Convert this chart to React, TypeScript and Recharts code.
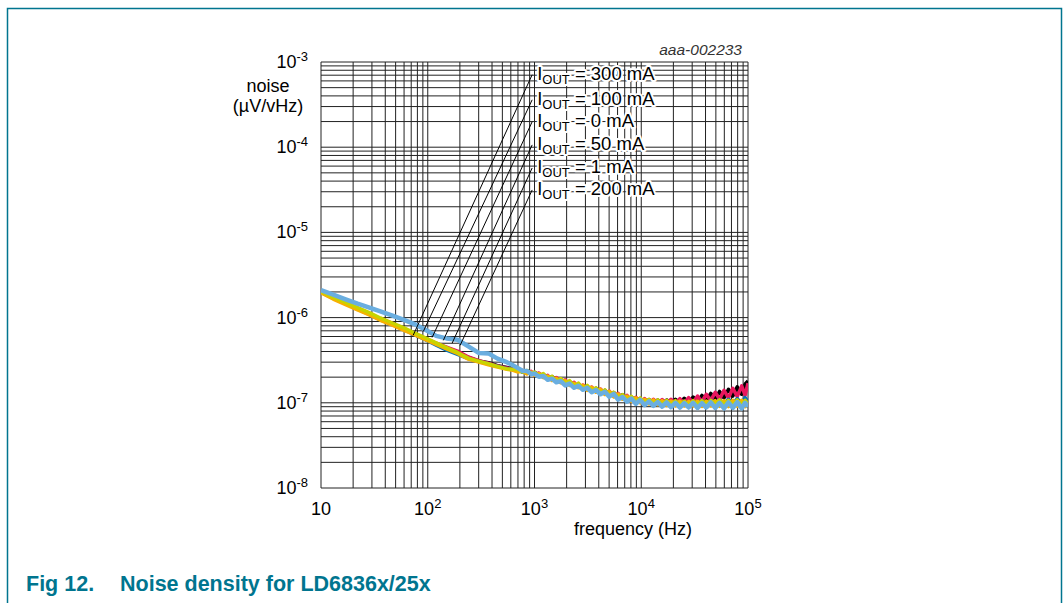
import React from "react";
import {
  LineChart,
  Line,
  XAxis,
  YAxis,
  CartesianGrid,
  ReferenceLine,
  ReferenceDot,
} from "recharts";

// frequency points (Hz)
const freq = [
  10, 13, 17, 22, 28, 36, 46, 60, 75, 95, 120, 150, 190, 240, 300, 370, 450, 550, 630,
  700, 770, 850, 930, 1000, 1100, 1210, 1330, 1460, 1600, 1760, 1940, 2130, 2350, 2580,
  2840, 3120, 3430, 3770, 4150, 4570, 5020, 5520, 6070, 6680, 7350, 8080, 8890, 9780,
  10760, 11830, 13000, 14300, 15700, 17300, 19000, 20900, 23000, 25300, 27800, 30600,
  33700, 37000, 40700, 44800, 49300, 54200, 59600, 65600, 72100, 79300, 87300, 94000,
  100000,
];

// noise density (uV/sqrt(Hz)) per load current
const iout300 = [
  20e-7, 17e-7, 14.7e-7, 12.7e-7, 11.2e-7, 9.6e-7, 8.5e-7, 7.3e-7, 6.4e-7, 5.6e-7, 4.9e-7,
  4.4e-7, 3.95e-7, 3.4e-7, 3.1e-7, 2.95e-7, 2.72e-7, 2.6e-7, 2.5e-7,
  2.45e-7, 2.32e-7, 2.38e-7, 2.2e-7, 2.28e-7, 2.1e-7, 2.16e-7, 1.96e-7, 2.03e-7, 1.83e-7,
  1.9e-7, 1.7e-7, 1.78e-7, 1.58e-7, 1.66e-7, 1.48e-7, 1.56e-7, 1.4e-7, 1.48e-7, 1.32e-7,
  1.4e-7, 1.24e-7, 1.32e-7, 1.16e-7, 1.24e-7, 1.09e-7, 1.17e-7, 1.04e-7, 1.12e-7, 1.0e-7,
  1.09e-7, 0.98e-7, 1.08e-7, 0.97e-7, 1.08e-7, 0.98e-7, 1.1e-7, 0.99e-7, 1.13e-7, 1.01e-7,
  1.17e-7, 1.03e-7, 1.22e-7, 1.06e-7, 1.29e-7, 1.1e-7, 1.36e-7, 1.14e-7, 1.44e-7, 1.2e-7,
  1.54e-7, 1.26e-7, 1.66e-7, 1.8e-7,
];
const iout100 = [
  20.2e-7, 17.1e-7, 14.9e-7, 12.9e-7, 11.3e-7, 9.7e-7, 8.6e-7, 7.4e-7, 6.5e-7, 5.7e-7, 5.0e-7,
  4.5e-7, 4.05e-7, 3.45e-7, 3.12e-7, 2.92e-7, 2.7e-7, 2.57e-7, 2.46e-7,
  2.38e-7, 2.4e-7, 2.22e-7, 2.34e-7, 2.12e-7, 2.24e-7, 2.0e-7, 2.1e-7, 1.86e-7, 1.98e-7,
  1.74e-7, 1.86e-7, 1.63e-7, 1.74e-7, 1.52e-7, 1.62e-7, 1.43e-7, 1.53e-7, 1.35e-7, 1.45e-7,
  1.27e-7, 1.37e-7, 1.19e-7, 1.29e-7, 1.12e-7, 1.22e-7, 1.06e-7, 1.16e-7, 1.02e-7, 1.12e-7,
  0.99e-7, 1.1e-7, 0.98e-7, 1.09e-7, 0.97e-7, 1.1e-7, 0.98e-7, 1.12e-7, 0.99e-7, 1.15e-7,
  1.0e-7, 1.2e-7, 1.03e-7, 1.26e-7, 1.06e-7, 1.33e-7, 1.1e-7, 1.4e-7, 1.14e-7, 1.48e-7,
  1.18e-7, 1.58e-7, 1.22e-7, 1.7e-7,
];
const iout0 = [
  19.8e-7, 16.8e-7, 14.6e-7, 12.6e-7, 11.0e-7, 9.4e-7, 8.3e-7, 7.2e-7, 6.3e-7, 5.5e-7, 4.75e-7,
  4.15e-7, 3.7e-7, 3.3e-7, 3.05e-7, 2.85e-7, 2.68e-7, 2.52e-7, 2.45e-7,
  2.42e-7, 2.28e-7, 2.36e-7, 2.17e-7, 2.27e-7, 2.06e-7, 2.14e-7, 1.92e-7, 2.0e-7, 1.8e-7,
  1.88e-7, 1.68e-7, 1.76e-7, 1.57e-7, 1.64e-7, 1.47e-7, 1.54e-7, 1.38e-7, 1.46e-7, 1.3e-7,
  1.38e-7, 1.22e-7, 1.3e-7, 1.14e-7, 1.22e-7, 1.08e-7, 1.16e-7, 1.03e-7, 1.11e-7, 0.99e-7,
  1.08e-7, 0.97e-7, 1.06e-7, 0.95e-7, 1.05e-7, 0.94e-7, 1.04e-7, 0.94e-7, 1.04e-7, 0.94e-7,
  1.05e-7, 0.95e-7, 1.06e-7, 0.95e-7, 1.07e-7, 0.96e-7, 1.08e-7, 0.97e-7, 1.1e-7, 0.98e-7,
  1.12e-7, 0.99e-7, 1.15e-7, 1.02e-7,
];
const iout50 = [
  19.6e-7, 16.5e-7, 14.2e-7, 12.3e-7, 10.8e-7, 9.3e-7, 8.2e-7, 7.1e-7, 6.3e-7, 5.5e-7, 4.85e-7,
  4.3e-7, 3.8e-7, 3.25e-7, 3.0e-7, 2.8e-7, 2.62e-7, 2.48e-7, 2.4e-7,
  2.3e-7, 2.36e-7, 2.18e-7, 2.3e-7, 2.1e-7, 2.2e-7, 1.97e-7, 2.06e-7, 1.83e-7, 1.94e-7,
  1.72e-7, 1.82e-7, 1.6e-7, 1.7e-7, 1.5e-7, 1.6e-7, 1.4e-7, 1.52e-7, 1.33e-7, 1.44e-7,
  1.25e-7, 1.36e-7, 1.17e-7, 1.27e-7, 1.1e-7, 1.2e-7, 1.04e-7, 1.14e-7, 1.0e-7, 1.1e-7,
  0.97e-7, 1.08e-7, 0.95e-7, 1.06e-7, 0.93e-7, 1.05e-7, 0.92e-7, 1.05e-7, 0.92e-7, 1.04e-7,
  0.92e-7, 1.05e-7, 0.91e-7, 1.05e-7, 0.92e-7, 1.06e-7, 0.91e-7, 1.06e-7, 0.9e-7, 1.07e-7,
  0.91e-7, 1.07e-7, 0.9e-7, 1.05e-7,
];
const iout1 = [
  20.3e-7, 17.4e-7, 15.1e-7, 13.1e-7, 11.5e-7, 9.9e-7, 8.7e-7, 7.6e-7, 6.6e-7, 5.8e-7, 5.05e-7,
  4.45e-7, 3.9e-7, 3.35e-7, 3.08e-7, 2.88e-7, 2.68e-7, 2.5e-7, 2.47e-7,
  2.44e-7, 2.3e-7, 2.4e-7, 2.18e-7, 2.3e-7, 2.06e-7, 2.2e-7, 1.9e-7, 2.05e-7, 1.78e-7,
  1.93e-7, 1.66e-7, 1.82e-7, 1.55e-7, 1.7e-7, 1.45e-7, 1.6e-7, 1.38e-7, 1.5e-7, 1.3e-7,
  1.42e-7, 1.22e-7, 1.33e-7, 1.14e-7, 1.25e-7, 1.07e-7, 1.19e-7, 1.02e-7, 1.14e-7, 0.99e-7,
  1.1e-7, 0.97e-7, 1.08e-7, 0.95e-7, 1.07e-7, 0.94e-7, 1.06e-7, 0.93e-7, 1.05e-7, 0.93e-7,
  1.06e-7, 0.94e-7, 1.06e-7, 0.93e-7, 1.07e-7, 0.94e-7, 1.08e-7, 0.94e-7, 1.07e-7, 0.93e-7,
  1.08e-7, 0.94e-7, 1.07e-7, 0.95e-7,
];
const iout200 = [
  21e-7, 18.6e-7, 16.4e-7, 14.6e-7, 13.2e-7, 11.8e-7, 10.6e-7, 9.4e-7, 8.4e-7, 7.2e-7, 6.1e-7,
  5.7e-7, 5.5e-7, 4.6e-7, 3.85e-7, 3.8e-7, 3.3e-7, 3.0e-7, 2.75e-7,
  2.55e-7, 2.38e-7, 2.36e-7, 2.18e-7, 2.2e-7, 2.02e-7, 2.06e-7, 1.86e-7, 1.92e-7, 1.74e-7,
  1.8e-7, 1.6e-7, 1.68e-7, 1.5e-7, 1.58e-7, 1.42e-7, 1.5e-7, 1.33e-7, 1.41e-7, 1.26e-7,
  1.35e-7, 1.18e-7, 1.27e-7, 1.09e-7, 1.17e-7, 1.03e-7, 1.12e-7, 0.97e-7, 1.08e-7, 0.94e-7,
  1.04e-7, 0.92e-7, 1.02e-7, 0.9e-7, 1.01e-7, 0.89e-7, 1.0e-7, 0.88e-7, 0.99e-7, 0.88e-7,
  1.0e-7, 0.87e-7, 0.99e-7, 0.88e-7, 1.01e-7, 0.87e-7, 1.0e-7, 0.86e-7, 1.01e-7, 0.87e-7,
  1.02e-7, 0.86e-7, 1.0e-7, 0.9e-7,
];

// leader labels: text, label anchor (f, v) and curve end (f, v)
const leaderText = ["300 mA", "100 mA", "0 mA", "50 mA", "1 mA", "200 mA"];
const leaderTopF = [951, 951, 951, 951, 951, 951];
const leaderTopV = [7.09e-4, 3.6e-4, 1.99e-4, 1.064e-4, 5.7e-5, 3.15e-5];
const leaderEndF = [73, 91, 110, 140, 169, 201];
const leaderEndV = [6.2e-7, 6.9e-7, 5.86e-7, 5.41e-7, 4.99e-7, 4.72e-7];

// axes
const mantissas = [1, 2, 3, 4, 5, 6, 7, 8, 9];
const xDecades = [10, 100, 1000, 10000, 100000];
const xExponents = ["", "2", "3", "4", "5"];
const yDecades = [1e-8, 1e-7, 1e-6, 1e-5, 1e-4, 1e-3];
const yExponents = ["-8", "-7", "-6", "-5", "-4", "-3"];

const xTicks = xDecades
  .slice(0, -1)
  .flatMap((d) => mantissas.map((m) => m * d))
  .concat([100000]);
const yTicks = yDecades
  .slice(0, -1)
  .flatMap((d) => mantissas.map((m) => m * d))
  .concat([1e-3]);

const data = freq.map((f, i) => ({
  f,
  i300: iout300[i],
  i100: iout100[i],
  i0: iout0[i],
  i50: iout50[i],
  i1: iout1[i],
  i200: iout200[i],
}));

const FONT = "'Liberation Sans', Arial, Helvetica, sans-serif";
const TEAL = "#00758F";

const findDecade = (list: number[], v: number) =>
  list.findIndex((d) => Math.abs(v / d - 1) < 1e-6);

function XTick(props: any) {
  const { x, y, payload } = props;
  const i = findDecade(xDecades, payload.value);
  if (i < 0) return <g />;
  return (
    <text x={x} y={y + 19} textAnchor="middle" fontSize={18} fontFamily={FONT} fill="#000">
      10
      {xExponents[i] && (
        <tspan dy={-7} fontSize={13}>
          {xExponents[i]}
        </tspan>
      )}
    </text>
  );
}

function YTick(props: any) {
  const { x, y, payload } = props;
  const i = findDecade(yDecades, payload.value);
  if (i < 0) return <g />;
  return (
    <text x={x - 5} y={y + 6} textAnchor="end" fontSize={18} fontFamily={FONT} fill="#000">
      10
      <tspan dy={-7} fontSize={13}>
        {yExponents[i]}
      </tspan>
    </text>
  );
}

function leaderLabel(text: string) {
  return (props: any) => (
    <text
      x={props.cx + 5}
      y={props.cy + 5}
      fontSize={18.5}
      fontFamily={FONT}
      fill="#000"
      stroke="#fff"
      strokeWidth={4}
      strokeLinejoin="round"
      paintOrder="stroke"
    >
      I
      <tspan dy={4} fontSize={13}>
        OUT
      </tspan>
      <tspan dy={-4}>{" = " + text}</tspan>
    </text>
  );
}

const series = [
  { key: "i300", color: "#000000", width: 3.5 },
  { key: "i100", color: "#E8175D", width: 3.5 },
  { key: "i0", color: "#0072BC", width: 3.5 },
  { key: "i50", color: "#F9B000", width: 3.5 },
  { key: "i1", color: "#C8D400", width: 3.5 },
  { key: "i200", color: "#6AAEE0", width: 4.5 },
];

export default function App() {
  return (
    <div style={{ position: "absolute", left: 0, top: 0, width: 1063, height: 603, background: "#fff" }}>
      <LineChart
        width={1063}
        height={603}
        data={data}
        margin={{ top: 62, right: 315, bottom: 85, left: 261 }}
      >
        <CartesianGrid stroke="#222" strokeWidth={1} />
        <XAxis
          type="number"
          dataKey="f"
          scale="log"
          domain={[10, 100000]}
          ticks={xTicks}
          interval={0}
          allowDataOverflow
          axisLine={false}
          tickLine={false}
          tick={XTick}
          height={30}
        />
        <YAxis
          type="number"
          scale="log"
          domain={[1e-8, 1e-3]}
          ticks={yTicks}
          interval={0}
          allowDataOverflow
          axisLine={false}
          tickLine={false}
          tick={YTick}
          width={60}
        />
        {series.map((s) => (
          <Line
            key={s.key}
            type="linear"
            dataKey={s.key}
            stroke={s.color}
            strokeWidth={s.width}
            strokeLinejoin="round"
            dot={false}
            activeDot={false}
            isAnimationActive={false}
          />
        ))}
        {leaderText.map((t, i) => (
          <ReferenceLine
            key={"l" + i}
            segment={[
              { x: leaderTopF[i], y: leaderTopV[i] },
              { x: leaderEndF[i], y: leaderEndV[i] },
            ]}
            stroke="#000"
            strokeWidth={1}
            ifOverflow="visible"
          />
        ))}
        {leaderText.map((t, i) => (
          <ReferenceDot
            key={"d" + i}
            x={leaderTopF[i]}
            y={leaderTopV[i]}
            r={0}
            ifOverflow="visible"
            shape={leaderLabel(t)}
          />
        ))}
      </LineChart>
      <svg
        width={1063}
        height={603}
        style={{ position: "absolute", left: 0, top: 0, pointerEvents: "none" }}
        fontFamily={FONT}
      >
        <path d="M7.5 603 V8.5 H1061.5 V603" fill="none" stroke={TEAL} strokeWidth={1.5} />
        <text x={742} y={55} textAnchor="end" fontSize={15.5} fontStyle="italic" fill="#333">
          aaa-002233
        </text>
        <text x={268} y={92} textAnchor="middle" fontSize={18} fill="#000">
          noise
        </text>
        <text x={268} y={112} textAnchor="middle" fontSize={18} fill="#000">
          (µV/vHz)
        </text>
        <text x={633} y={535} textAnchor="middle" fontSize={18} fill="#000">
          frequency (Hz)
        </text>
        <text x={26} y={591} fontSize={21.5} fontWeight="bold" fill={TEAL}>
          Fig 12.
        </text>
        <text x={120} y={591} fontSize={21.5} fontWeight="bold" fill={TEAL}>
          Noise density for LD6836x/25x
        </text>
      </svg>
    </div>
  );
}
